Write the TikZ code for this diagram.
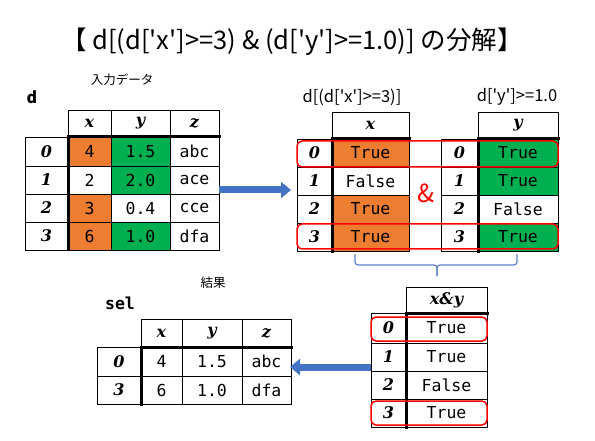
\documentclass[tikz,border=0pt]{standalone}
\usepackage{fontspec}
\setmainfont{Noto Sans CJK JP}
\newfontfamily\jpf{Noto Sans CJK JP}
\newfontfamily\monof{DejaVu Sans Mono}
\newfontfamily\idxf{DejaVu Serif}
\usetikzlibrary{arrows.meta}
\definecolor{orng}{HTML}{ED7D31}
\definecolor{grn}{HTML}{00B050}
\definecolor{blu}{HTML}{4472C4}
\definecolor{brc}{HTML}{5F84CC}
\newcommand\q{\char"27\relax}
% name, x1, y1, x2, y2, fill, style, text
\newcommand\tcell[8]{%
  \filldraw[fill=#6,draw=black,line width=0.8pt] (#2,#3) rectangle (#4,#5);
  \node[#7] (#1) at ({(#2+#4)/2},{(#3+#5)/2}) {#8};}
\tikzset{
  val/.style={font=\monof\fontsize{16.5}{18}\selectfont, inner sep=0pt},
  idx/.style={font=\idxf\bfseries\itshape\fontsize{16}{18}\selectfont, inner sep=0pt},
  thick line/.style={line width=3pt, line cap=rect},
  selbox/.style={draw=red, line width=1.5pt, rounded corners=5pt},
  bigarrow/.style={draw=blu, line width=7pt, -{Triangle[width=16pt,length=10pt]}},
  bracestyle/.style={draw=brc, line width=1.2pt, rounded corners=3pt},
  lbl/.style={font=\jpf\fontsize{16.5}{18}\selectfont, inner sep=0pt},
  small/.style={font=\jpf\fontsize{12.5}{14}\selectfont, inner sep=0pt}
}
\begin{document}
\begin{tikzpicture}[x=1pt,y=-1pt]
\useasboundingbox (0,0) rectangle (595,441);
\fill[white] (0,0) rectangle (595,441);

% title
\node[font=\jpf\fontsize{25.5}{28}\selectfont, inner sep=0pt] (title) at (292,42) {【 d[(d[\q x\q]>=3) \& (d[\q y\q]>=1.0)] の分解】};

% labels
\node[small] (inlbl) at (122,80) {入力データ};
\node[font=\jpf\bfseries\fontsize{16}{18}\selectfont, inner sep=0pt] (dlbl) at (32,97) {d};
\node[lbl] (xlbl) at (352,97) {d[(d[\q x\q]>=3)]};
\node[lbl] (ylbl) at (517,97) {d[\q y\q]>=1.0};
\node[small] (reslbl) at (213,283) {結果};
\node[font=\monof\bfseries\fontsize{16.5}{18}\selectfont, inner sep=0pt] (sellbl) at (120,303) {sel};

% ---- table d ----
\tcell{dhx}{68}{110}{111}{137}{white}{idx}{x}
\tcell{dhy}{111}{110}{170}{137}{white}{idx}{y}
\tcell{dhz}{170}{110}{219}{137}{white}{idx}{z}
\tcell{di0}{25}{137}{68}{166}{white}{idx}{0}
\tcell{dx0}{68}{137}{111}{166}{orng}{val}{4}
\tcell{dy0}{111}{137}{170}{166}{grn}{val}{1.5}
\tcell{dz0}{170}{137}{219}{166}{white}{val}{abc}
\tcell{di1}{25}{166}{68}{194}{white}{idx}{1}
\tcell{dx1}{68}{166}{111}{194}{white}{val}{2}
\tcell{dy1}{111}{166}{170}{194}{grn}{val}{2.0}
\tcell{dz1}{170}{166}{219}{194}{white}{val}{ace}
\tcell{di2}{25}{194}{68}{222}{white}{idx}{2}
\tcell{dx2}{68}{194}{111}{222}{orng}{val}{3}
\tcell{dy2}{111}{194}{170}{222}{white}{val}{0.4}
\tcell{dz2}{170}{194}{219}{222}{white}{val}{cce}
\tcell{di3}{25}{222}{68}{250}{white}{idx}{3}
\tcell{dx3}{68}{222}{111}{250}{orng}{val}{6}
\tcell{dy3}{111}{222}{170}{250}{grn}{val}{1.0}
\tcell{dz3}{170}{222}{219}{250}{white}{val}{dfa}
\draw[thick line] (68,137) -- (219,137);
\draw[thick line] (68,137) -- (68,250);

% ---- left bool table ----
\tcell{lhx}{332}{112}{409}{139}{white}{idx}{x}
\tcell{li0}{297}{139}{332}{167}{white}{idx}{0}
\tcell{lx0}{332}{139}{409}{167}{orng}{val}{True}
\tcell{li1}{297}{167}{332}{195}{white}{idx}{1}
\tcell{lx1}{332}{167}{409}{195}{white}{val}{False}
\tcell{li2}{297}{195}{332}{223}{white}{idx}{2}
\tcell{lx2}{332}{195}{409}{223}{orng}{val}{True}
\tcell{li3}{297}{223}{332}{251}{white}{idx}{3}
\tcell{lx3}{332}{223}{409}{251}{orng}{val}{True}
\draw[thick line] (332,139) -- (409,139);
\draw[thick line] (332,139) -- (332,251);

% ---- right bool table ----
\tcell{rhy}{478}{112}{558}{139}{white}{idx}{y}
\tcell{ri0}{441}{139}{478}{167}{white}{idx}{0}
\tcell{ry0}{478}{139}{558}{167}{grn}{val}{True}
\tcell{ri1}{441}{167}{478}{195}{white}{idx}{1}
\tcell{ry1}{478}{167}{558}{195}{grn}{val}{True}
\tcell{ri2}{441}{195}{478}{223}{white}{idx}{2}
\tcell{ry2}{478}{195}{558}{223}{white}{val}{False}
\tcell{ri3}{441}{223}{478}{251}{white}{idx}{3}
\tcell{ry3}{478}{223}{558}{251}{grn}{val}{True}
\draw[thick line] (478,139) -- (558,139);
\draw[thick line] (478,139) -- (478,251);

% ampersand
\node[font=\jpf\fontsize{25}{27}\selectfont, text=red, inner sep=0pt] (amp) at (426,193) {\&};

% red selection boxes (top)
\draw[selbox] (297,141) rectangle (558,167);
\draw[selbox] (297,224) rectangle (558,249);

% brace
\coordinate (brL) at (355,254);
\coordinate (brR) at (517,254);
\coordinate (brM) at (437,276);
\draw[bracestyle] (brL) -- (355,265) -- (437,265) -- (brM);
\draw[bracestyle] (brR) -- (517,265) -- (437,265) -- (brM);

% ---- x&y table ----
\tcell{ah}{406}{287}{487}{313}{white}{idx}{x\&y}
\tcell{ai0}{371}{313}{406}{343}{white}{idx}{0}
\tcell{av0}{406}{313}{487}{343}{white}{val}{True}
\tcell{ai1}{371}{343}{406}{371}{white}{idx}{1}
\tcell{av1}{406}{343}{487}{371}{white}{val}{True}
\tcell{ai2}{371}{371}{406}{399}{white}{idx}{2}
\tcell{av2}{406}{371}{487}{399}{white}{val}{False}
\tcell{ai3}{371}{399}{406}{427}{white}{idx}{3}
\tcell{av3}{406}{399}{487}{427}{white}{val}{True}
\draw[thick line] (406,313) -- (487,313);
\draw[thick line] (406,313) -- (406,427);
\draw[selbox] (371,317) rectangle (487,341);
\draw[selbox] (371,401) rectangle (487,425);

% ---- sel table ----
\tcell{shx}{141}{319}{182}{347}{white}{idx}{x}
\tcell{shy}{182}{319}{242}{347}{white}{idx}{y}
\tcell{shz}{242}{319}{291}{347}{white}{idx}{z}
\tcell{si0}{97}{347}{141}{376}{white}{idx}{0}
\tcell{sx0}{141}{347}{182}{376}{white}{val}{4}
\tcell{sy0}{182}{347}{242}{376}{white}{val}{1.5}
\tcell{sz0}{242}{347}{291}{376}{white}{val}{abc}
\tcell{si3}{97}{376}{141}{404}{white}{idx}{3}
\tcell{sx3}{141}{376}{182}{404}{white}{val}{6}
\tcell{sy3}{182}{376}{242}{404}{white}{val}{1.0}
\tcell{sz3}{242}{376}{291}{404}{white}{val}{dfa}
\draw[thick line] (141,347) -- (291,347);
\draw[thick line] (141,347) -- (141,404);

% arrows
\coordinate (a1s) at (219,190);
\coordinate (a1e) at (291,190);
\draw[bigarrow] (a1s) -- (a1e);
\coordinate (a2s) at (371,367);
\coordinate (a2e) at (290,367);
\draw[bigarrow] (a2s) -- (a2e);
\end{tikzpicture}
\end{document}
